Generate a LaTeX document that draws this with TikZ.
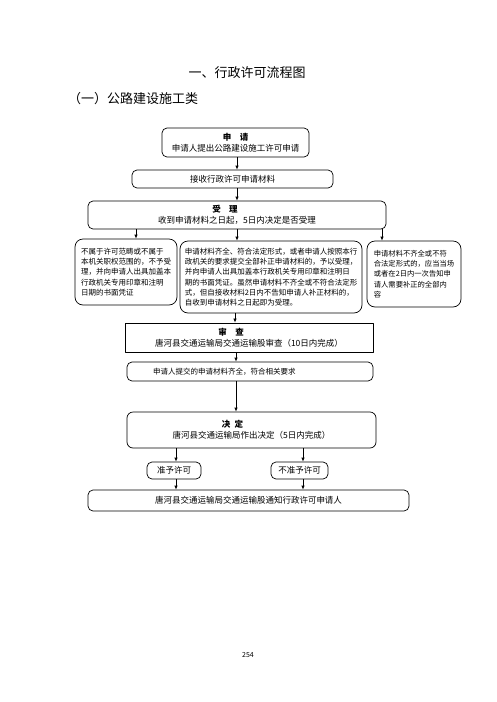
\documentclass[tikz,border=0pt]{standalone}
\usepackage{fontspec}
\setmainfont{Noto Sans CJK SC}
\usetikzlibrary{arrows.meta}

\begin{document}
\begin{tikzpicture}[x=1pt, y=-1pt, line cap=round, line join=round,
    box/.style={draw, line width=0.7pt, rounded corners=5pt, inner sep=2pt, align=center, font=\fontsize{8.5}{11}\selectfont},
    textbox/.style={draw, line width=0.7pt, rounded corners=8pt, inner sep=2pt, align=left, font=\fontsize{7.5}{10.3}\selectfont},
    arr/.style={line width=0.7pt, -{Latex[length=4pt,width=3.5pt]}}]
    \useasboundingbox (0,0) rectangle (496,702);
    \node[font=\fontsize{13}{13}\selectfont] (title) at (247,73) {一、行政许可流程图};
    \node[font=\fontsize{13}{13}\selectfont, anchor=west, inner sep=0pt] (subtitle) at (68,99) {（一）公路建设施工类};
    \node[box, minimum width=147, minimum height=29] (apply) at (235.5,142.5) {\textbf{申\quad 请}\\申请人提出公路建设施工许可申请};
    \node[box, minimum width=201, minimum height=18] (receive) at (232.5,179) {接收行政许可申请材料};
    \node[box, minimum width=298, minimum height=28] (accept) at (237,215) {\hspace*{-24pt}\textbf{受\quad 理}\\收到申请材料之日起，5日内决定是否受理};
    \node[textbox, minimum width=102, minimum height=66] (refuse) at (126,272) {不属于许可范畴或不属于\\本机关职权范围的，不予受\\理，并向申请人出具加盖本\\行政机关专用印章和注明\\日期的书面凭证};
    \node[textbox, minimum width=182, minimum height=72] (admit) at (271,277) {申请材料齐全、符合法定形式，或者申请人按照本行\\政机关的要求提交全部补正申请材料的，予以受理，\\并向申请人出具加盖本行政机关专用印章和注明日\\期的书面凭证。虽然申请材料不齐全或不符合法定形\\式，但自接收材料2日内不告知申请人补正材料的，\\自收到申请材料之日起即为受理。};
    \node[textbox, minimum width=94, minimum height=66, font=\fontsize{7.3}{10.2}\selectfont] (supplement) at (414,274) {申请材料不齐全或不符\\合法定形式的，应当当场\\或者在2日内一次告知申\\请人需要补正的全部内\\容};
    \node[box, sharp corners, line width=0.9pt, minimum width=248, minimum height=29] (review) at (249,337.5) {\hspace*{-36pt}\textbf{审\quad 查}\\唐河县交通运输局交通运输股审查（10日内完成）};
    \node[box, minimum width=246, minimum height=19, text width=194, inner xsep=26pt, align=left, font=\fontsize{7.5}{9}\selectfont] (check) at (250,371.5) {申请人提交的申请材料齐全，符合相关要求};
    \node[box, rounded corners=6pt, minimum width=249, minimum height=36] (decide) at (251.5,430) {\hspace*{-38pt}\textbf{决\enspace 定}\\唐河县交通运输局作出决定（5日内完成）};
    \node[box, minimum width=54, minimum height=17] (grant) at (174,470.5) {准予许可};
    \node[box, minimum width=57, minimum height=17] (deny) at (299.5,470.5) {不准予许可};
    \node[box, minimum width=321, minimum height=21] (notify) at (248.5,500.5) {唐河县交通运输局交通运输股通知行政许可申请人};
    \node[font=\fontsize{7}{7}\selectfont] (page) at (248,655) {254};
    \foreach \from/\to/\xpos in {apply/receive/237, receive/accept/237, accept/refuse/136, accept/admit/237, accept/supplement/382, admit/review/235, review/check/236, check/decide/236, decide/grant/176, decide/deny/303, grant/notify/176, deny/notify/303}
        \draw[arr] (\from.south -| \xpos,0) -- (\to.north -| \xpos,0);
\end{tikzpicture}
\end{document}
